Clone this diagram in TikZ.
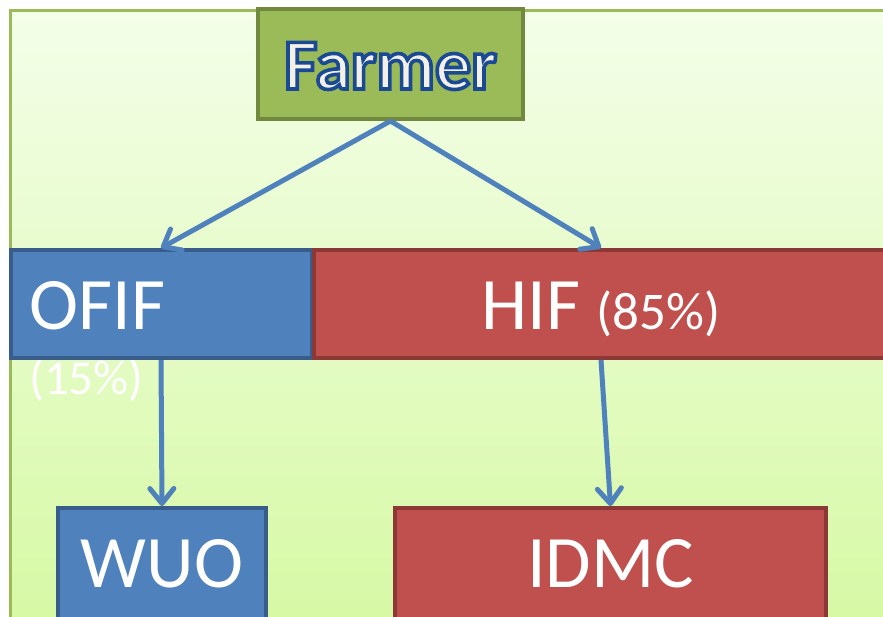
\documentclass[tikz,border=0pt]{standalone}
\usepackage{fontspec}
\setmainfont{Carlito}
\newfontfamily\farmerfont[RawFeature={embolden=5}]{Carlito Bold}
\usetikzlibrary{arrows.meta}

\definecolor{farmgreen}{HTML}{9BBB59}
\definecolor{farmgreendark}{HTML}{71893F}
\definecolor{farmtext}{HTML}{F3F0E8}
\definecolor{offblue}{HTML}{4F81BD}
\definecolor{offbluedark}{HTML}{385D8A}
\definecolor{offred}{HTML}{C0504D}
\definecolor{offreddark}{HTML}{8C3836}
\definecolor{bgtop}{HTML}{F4FEE9}
\definecolor{bgbottom}{HTML}{D6F9A4}
\definecolor{frame}{HTML}{9BBB59}

\newcommand{\hugesize}{\fontsize{74}{80}\selectfont}
\newcommand{\pctsize}{\fontsize{53}{58}\selectfont}
\newcommand{\outlineblue}{\special{pdf:code 0.105 0.290 0.580 RG}}

\begin{document}
\begin{tikzpicture}[x=1pt,y=-1pt]
\tikzstyle{box}=[draw, line width=4pt, inner sep=0pt, text=white, font=\hugesize, text depth=0pt]
\tikzstyle{bluebox}=[box, fill=offblue, draw=offbluedark]
\tikzstyle{redbox}=[box, fill=offred, draw=offreddark]
\tikzstyle{flow}=[draw=offblue, line width=5pt, -{Straight Barb[length=15pt,width=24pt,line cap=round,line join=round]}]

  % background and frame
  \useasboundingbox (0,0) rectangle (883,616);
  \shade[top color=bgtop, bottom color=bgbottom, draw=frame, line width=3pt] (10,10) rectangle (900,630);

  \node[box, fill=farmgreen, draw=farmgreendark, minimum width=265pt, minimum height=110pt, text height=50pt, text=farmtext, font=\farmerfont\fontsize{72}{80}\selectfont] (farmer) at (390.5,64) {\outlineblue Farmer};

  % middle row
  \node[text=white, font=\fontsize{49}{54}\selectfont, anchor=base west, inner sep=0pt] (ofifpct) at (29,394) {(15\%)};
  \node[bluebox, minimum height=108pt, text width=263pt, inner xsep=19pt, align=left, text height=50pt] (ofif) at (161,304) {OFIF};
  \node[redbox, minimum width=574pt, minimum height=108pt, text height=50pt] (hif) at (601,304) {HIF {\pctsize(85\%)}};

  % bottom row
  \node[bluebox, minimum width=208pt, minimum height=112pt, text height=46pt] (wuo) at (162,564) {WUO};
  \node[redbox, minimum width=431pt, minimum height=112pt, text height=46pt] (idmc) at (610.5,564) {IDMC};

  \draw[flow] (farmer.south) -- (ofif.north);
  \draw[flow] (farmer.south) -- (hif.north);
  \draw[flow] (ofif.south) -- (wuo.north);
  \draw[flow] (hif.south) -- (idmc.north);
\end{tikzpicture}
\end{document}
